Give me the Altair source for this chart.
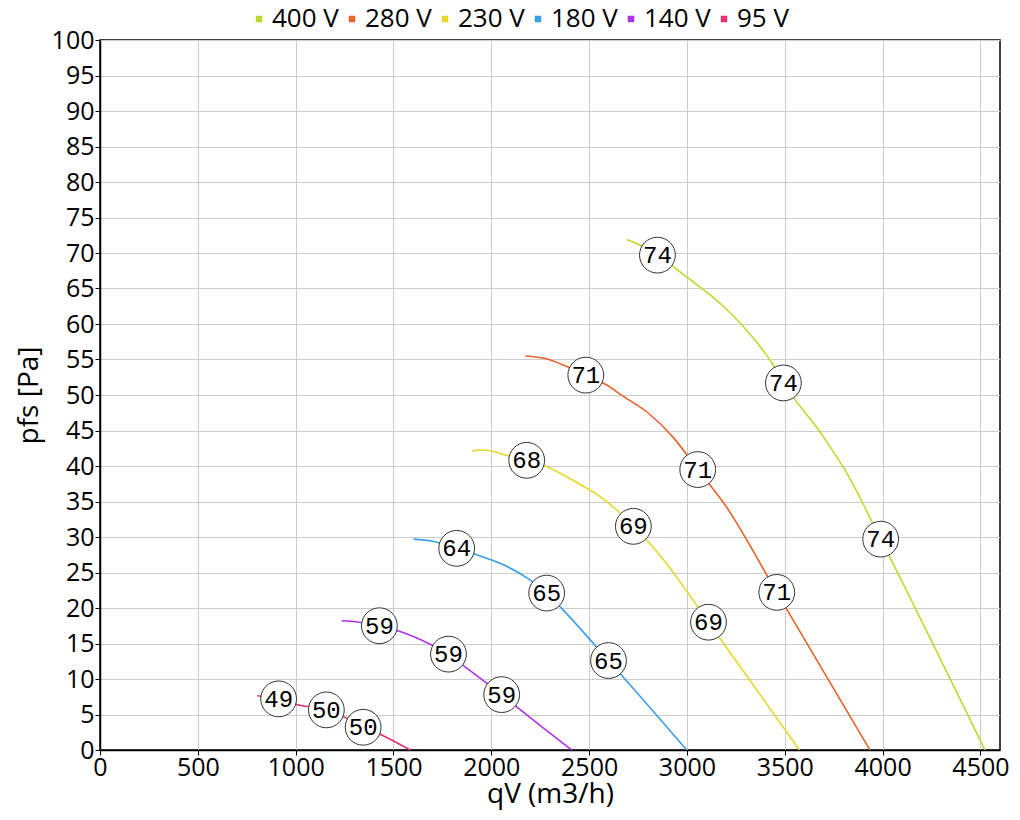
import altair as alt
import pandas as pd

series_names = ["400 V", "280 V", "230 V", "180 V", "140 V", "95 V"]
series_colors = ["#b9dc2a", "#e8622c", "#e6d82a", "#3a9ee6", "#b030e6", "#e6306e"]

q_400 = [2693, 2761, 2849, 3000, 3186, 3289, 3434, 3493, 3698, 3817, 3990, 4523]
p_400 = [71.9, 71.1, 69.7, 66.6, 62.5, 59.6, 54.5, 51.7, 44.1, 39.0, 29.7, 0.0]

q_280 = [2173, 2283, 2386, 2483, 2590, 2675, 2800, 2931, 3055, 3195, 3459, 3935]
p_280 = [55.5, 55.1, 54.0, 52.8, 51.4, 49.8, 47.5, 44.0, 39.5, 34.5, 22.2, 0.0]

q_230 = [1902, 1960, 2079, 2181, 2283, 2454, 2556, 2641, 2726, 2803, 2880, 3110, 3575]
p_230 = [42.1, 42.25, 41.5, 40.8, 39.9, 37.4, 35.7, 33.8, 31.5, 29.3, 26.8, 18.0, 0.0]

q_180 = [1602, 1700, 1823, 1925, 2045, 2190, 2283, 2368, 2522, 2599, 2667, 2999]
p_180 = [29.7, 29.4, 28.4, 27.5, 26.3, 24.1, 22.1, 19.7, 15.0, 12.6, 10.5, 0.0]

q_140 = [1235, 1295, 1428, 1534, 1695, 1781, 1866, 1968, 2053, 2138, 2411]
p_140 = [18.2, 18.1, 17.5, 16.7, 14.8, 13.5, 11.7, 9.6, 7.8, 5.9, 0.0]

q_95 = [804, 912, 1022, 1159, 1244, 1346, 1448, 1585]
p_95 = [7.65, 7.2, 6.3, 5.7, 4.7, 3.3, 2.0, 0.0]

label_series = ["400 V"] * 3 + ["280 V"] * 3 + ["230 V"] * 3 + ["180 V"] * 3 + ["140 V"] * 3 + ["95 V"] * 3
label_q = [2849, 3493, 3990, 2483, 3055, 3459, 2181, 2726, 3110, 1823, 2283, 2599, 1428, 1781, 2053, 913, 1157, 1345]
label_p = [69.7, 51.7, 29.7, 52.8, 39.5, 22.2, 40.8, 31.5, 18.0, 28.4, 22.1, 12.6, 17.5, 13.5, 7.8, 7.2, 5.65, 3.2]
label_text = ["74", "74", "74", "71", "71", "71", "68", "69", "69", "64", "65", "65", "59", "59", "59", "49", "50", "50"]

x_ticks = [0, 500, 1000, 1500, 2000, 2500, 3000, 3500, 4000, 4500]
y_ticks = list(range(0, 101, 5))

curves = [(q_400, p_400), (q_280, p_280), (q_230, p_230), (q_180, p_180), (q_140, p_140), (q_95, p_95)]
rows = []
for name, (qs, ps) in zip(series_names, curves):
    for i, (q, p) in enumerate(zip(qs, ps)):
        rows.append({"series": name, "qV": q, "pfs": p, "order": i})
line_df = pd.DataFrame(rows)

lab_df = pd.DataFrame({"series": label_series, "qV": label_q, "pfs": label_p, "txt": label_text})

FONT = "Open Sans"

x_scale = alt.Scale(domain=[0, 4600], nice=False, zero=False)
y_scale = alt.Scale(domain=[0, 100], nice=False)
x_axis = alt.Axis(title="qV (m3/h)", values=x_ticks, grid=True, format="d", labelOverlap=False)
y_axis = alt.Axis(title="pfs [Pa]", values=y_ticks, grid=True, format="d", labelOverlap=False)


def xe():
    return alt.X("qV:Q", scale=x_scale, axis=x_axis)


def ye():
    return alt.Y("pfs:Q", scale=y_scale, axis=y_axis)


lines = alt.Chart(line_df).mark_line(strokeWidth=1.6, interpolate="monotone").encode(
    x=xe(),
    y=ye(),
    order="order:Q",
    color=alt.Color("series:N",
                    scale=alt.Scale(domain=series_names, range=series_colors),
                    sort=series_names,
                    legend=alt.Legend(title=None, orient="none", direction="horizontal",
                                      legendX=146, legendY=-34, symbolType="square",
                                      symbolSize=12, symbolStrokeWidth=3,
                                      labelFontSize=26, labelFont=FONT, labelOffset=0,
                                      columnPadding=0, labelColor="#000")),
)

circles = alt.Chart(lab_df).mark_point(shape="circle", filled=True, fill="white",
                                       stroke="#333333", strokeWidth=1, size=1280, opacity=1).encode(
    x=xe(), y=ye())

texts = alt.Chart(lab_df).mark_text(font="Liberation Mono", fontSize=24, color="black",
                                    baseline="middle", align="center", dy=1).encode(
    x=xe(), y=ye(), text="txt:N")

chart = alt.layer(lines, circles, texts).properties(
    width=900, height=710,
    autosize=alt.AutoSizeParams(type="none"),
    padding={"left": 92, "top": 32, "right": 12, "bottom": 70},
).configure_view(stroke="black", strokeWidth=1.5).configure_axis(
    labelFont=FONT, labelFontSize=25, labelColor="#000",
    titleFont=FONT, titleFontSize=28, titleFontWeight="normal", titleColor="#000",
    domainColor="black", domainWidth=1.5, tickColor="black", tickSize=5,
    gridColor="#cccccc", gridWidth=1,
).configure_axisX(labelPadding=0, titlePadding=0, labelFlush=False).configure_axisY(
    labelPadding=1, titlePadding=8)

chart.save("out.html", embed_options={"renderer": "svg", "actions": False})
